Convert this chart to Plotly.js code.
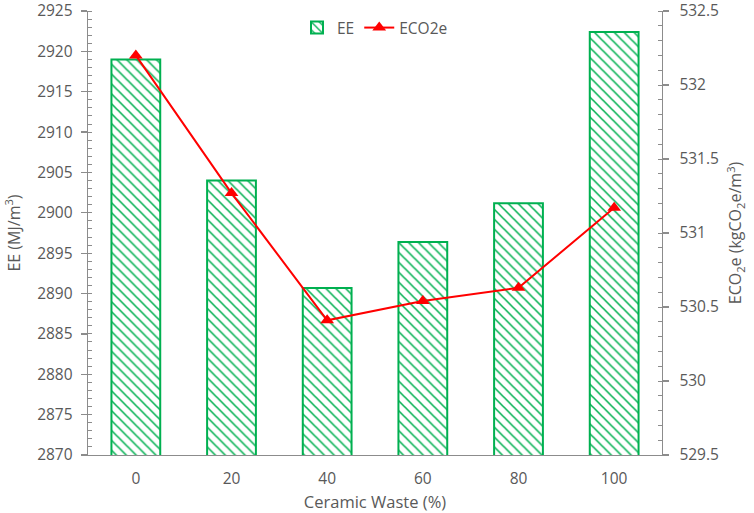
<!DOCTYPE html>
<html>
<head>
<meta charset="utf-8">
<script src="https://cdn.plot.ly/plotly-3.0.1.min.js"></script>
<style>html,body{margin:0;padding:0;background:#fff}#chart{width:754px;height:513px}</style>
</head>
<body>
<div id="chart"></div>
<script>
const categories = ['0', '20', '40', '60', '80', '100'];
const eeValues = [2919.0, 2904.0, 2890.7, 2896.4, 2901.2, 2922.4];
const eco2eValues = [532.20, 531.27, 530.41, 530.54, 530.63, 531.17];

const grey = '#595959';
const axisGrey = '#8c8c8c';
const fontFam = '"Open Sans", Lato, sans-serif';

const traces = [
  {
    type: 'bar',
    name: 'EE',
    x: categories,
    y: eeValues,
    yaxis: 'y',
    marker: {
      color: '#ffffff',
      line: {color: '#00B050', width: 2},
      pattern: {shape: '\\', fgcolor: '#00B050', bgcolor: '#ffffff', size: 7, solidity: 0.22}
    }
  },
  {
    type: 'scatter',
    mode: 'lines+markers',
    name: 'ECO2e',
    x: categories,
    y: eco2eValues,
    yaxis: 'y2',
    line: {color: '#FF0000', width: 2},
    marker: {symbol: 'triangle-up', size: 12, color: '#FF0000'}
  }
];

const layout = {
  width: 754,
  height: 513,
  margin: {l: 88, r: 92, t: 11, b: 58},
  paper_bgcolor: '#ffffff',
  plot_bgcolor: '#ffffff',
  font: {family: fontFam, size: 15, color: grey},
  bargap: 0.49,
  showlegend: true,
  legend: {
    orientation: 'h',
    x: 0.5, xanchor: 'center',
    y: 1.0, yanchor: 'top',
    font: {family: fontFam, size: 15.5, color: grey},
    bgcolor: 'rgba(0,0,0,0)'
  },
  xaxis: {
    type: 'category',
    showline: true,
    linecolor: axisGrey,
    linewidth: 1.3,
    ticks: '',
    showgrid: false,
    zeroline: false,
    ticklabelstandoff: 9,
    tickfont: {family: fontFam, size: 15.5, color: grey},
    title: {text: 'Ceramic Waste (%)', font: {family: fontFam, size: 16.5, color: grey}, standoff: 10}
  },
  yaxis: {
    range: [2870, 2925],
    dtick: 5,
    tick0: 2870,
    showline: true,
    linecolor: axisGrey,
    linewidth: 1.3,
    ticks: 'outside',
    ticklen: 6,
    tickwidth: 1.3,
    tickcolor: axisGrey,
    minor: {dtick: 1, ticks: 'inside', ticklen: 4, tickwidth: 1, tickcolor: axisGrey, showgrid: false},
    showgrid: false,
    zeroline: false,
    ticklabelstandoff: 5,
    ticklabeloverflow: 'allow',
    tickfont: {family: fontFam, size: 15.5, color: grey},
    title: {text: 'EE (MJ/m<sup>3</sup>)', font: {family: fontFam, size: 16, color: grey}, standoff: 12}
  },
  yaxis2: {
    overlaying: 'y',
    side: 'right',
    range: [529.5, 532.5],
    dtick: 0.5,
    tick0: 529.5,
    showline: true,
    linecolor: axisGrey,
    linewidth: 1.3,
    ticks: 'outside',
    ticklen: 6,
    tickwidth: 1.3,
    tickcolor: axisGrey,
    minor: {dtick: 0.1, ticks: 'inside', ticklen: 4, tickwidth: 1, tickcolor: axisGrey, showgrid: false},
    showgrid: false,
    zeroline: false,
    ticklabelstandoff: 7,
    ticklabeloverflow: 'allow',
    tickfont: {family: fontFam, size: 15.5, color: grey},
    title: {text: 'ECO<sub>2</sub>e (kgCO<sub>2</sub>e/m<sup>3</sup>)', font: {family: fontFam, size: 16, color: grey}, standoff: 12}
  }
};

Plotly.newPlot('chart', traces, layout, {displayModeBar: false, staticPlot: true});
</script>
</body>
</html>
